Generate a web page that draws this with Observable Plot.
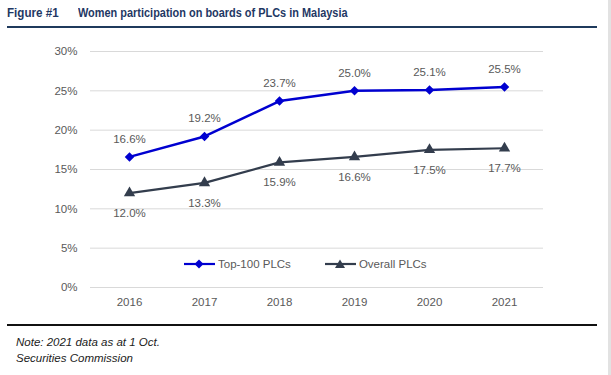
<!DOCTYPE html>
<html>
<head>
<meta charset="utf-8">
<script src="https://cdn.jsdelivr.net/npm/d3@7"></script>
<script src="https://cdn.jsdelivr.net/npm/@observablehq/plot@0.6"></script>
<style>
  html, body { margin: 0; padding: 0; background: #fff; }
  #wrap { position: relative; width: 611px; height: 375px; overflow: hidden; font-family: "Liberation Sans", Arial, sans-serif; }
  .tt { position: absolute; top: 5px; font-family: "Liberation Sans", Arial, sans-serif; font-weight: bold; font-size: 13.5px; color: #1f3864; white-space: nowrap; transform-origin: 0 0; }
  #fig { left: 7px; transform: scaleX(0.86); }
  #ttl { left: 78px; transform: scaleX(0.81); }
  #rule1 { position: absolute; left: 7px; top: 26px; width: 590px; height: 2px; background: #1f3a5c; }
  #chart { position: absolute; left: 0; top: 32px; }
  #legend { position: absolute; top: 258px; left: 184px; font-size: 11.5px; color: #595959; display: flex; align-items: center; }
  #legend .item { display: flex; align-items: center; }
  #rule2 { position: absolute; left: 7px; top: 324px; width: 590px; height: 2px; background: #111; }
  #note { position: absolute; left: 16px; top: 334px; font-style: italic; font-size: 11.5px; color: #222; line-height: 16px; }
  #edge { position: absolute; right: 0; top: 0; width: 3px; height: 375px; background: #e2e2e2; }
</style>
</head>
<body>
<div id="wrap">
  <div id="fig" class="tt">Figure #1</div>
  <div id="ttl" class="tt">Women participation on boards of PLCs in Malaysia</div>
  <div id="rule1"></div>
  <div id="chart"></div>
  <div id="legend"></div>
  <div id="rule2"></div>
  <div id="note">Note: 2021 data as at 1 Oct.<br>Securities Commission</div>
  <div id="edge"></div>
</div>
<script>
const years = ["2016", "2017", "2018", "2019", "2020", "2021"];
const top100 = [16.6, 19.2, 23.7, 25.0, 25.1, 25.5];
const overall = [12.0, 13.3, 15.9, 16.6, 17.5, 17.7];
const yTicks = [0, 5, 10, 15, 20, 25, 30];
const seriesNames = ["Top-100 PLCs", "Overall PLCs"];
const seriesColors = ["#0000d0", "#333d4d"];

const topData = years.map((y, i) => ({year: y, value: top100[i]}));
const allData = years.map((y, i) => ({year: y, value: overall[i]}));

const chart = Plot.plot({
  width: 611,
  height: 290,
  marginLeft: 90,
  marginRight: 68,
  marginTop: 19,
  marginBottom: 35,
  style: {fontFamily: "'Liberation Sans', Arial, sans-serif", fontSize: "11.5px", color: "#595959", background: "transparent"},
  x: {type: "point", domain: years, padding: 0.5, label: null, tickSize: 0, tickPadding: 10},
  y: {domain: [0, 30], ticks: yTicks, tickFormat: d => d + "%", label: null, tickSize: 0, tickPadding: 13},
  marks: [
    Plot.ruleY(yTicks, {stroke: "#d9d9d9", strokeWidth: 1}),
    Plot.line(allData, {x: "year", y: "value", stroke: seriesColors[1], strokeWidth: 2.2}),
    Plot.dot(allData, {x: "year", y: "value", symbol: "triangle", r: 4.2, fill: seriesColors[1], stroke: "none"}),
    Plot.line(topData, {x: "year", y: "value", stroke: seriesColors[0], strokeWidth: 2.5}),
    Plot.dot(topData, {x: "year", y: "value", symbol: "diamond2", r: 4.3, fill: seriesColors[0], stroke: "none"}),
    Plot.text(topData, {x: "year", y: "value", text: d => d.value.toFixed(1) + "%", dy: -18, fill: "#595959", fontSize: 11.5}),
    Plot.text(allData, {x: "year", y: "value", text: d => d.value.toFixed(1) + "%", dy: 20, fill: "#595959", fontSize: 11.5})
  ]
});
document.getElementById("chart").appendChild(chart);

// Legend
const legend = document.getElementById("legend");
const symbols = [
  '<path d="M15,-4.5 L19.5,0 L15,4.5 L10.5,0 Z" />',
  '<path d="M15,-4.5 L20,4 L10,4 Z" />'
];
seriesNames.forEach((name, i) => {
  const item = document.createElement("div");
  item.className = "item";
  item.style.marginRight = i === 0 ? "34px" : "0";
  item.innerHTML = `<svg width="31" height="12" viewBox="0 -6 31 12" style="margin-right:3px">
    <line x1="0" x2="31" y1="0" y2="0" stroke="${seriesColors[i]}" stroke-width="2.2"/>
    <g fill="${seriesColors[i]}">${symbols[i]}</g></svg><span>${name}</span>`;
  legend.appendChild(item);
});
</script>
</body>
</html>
